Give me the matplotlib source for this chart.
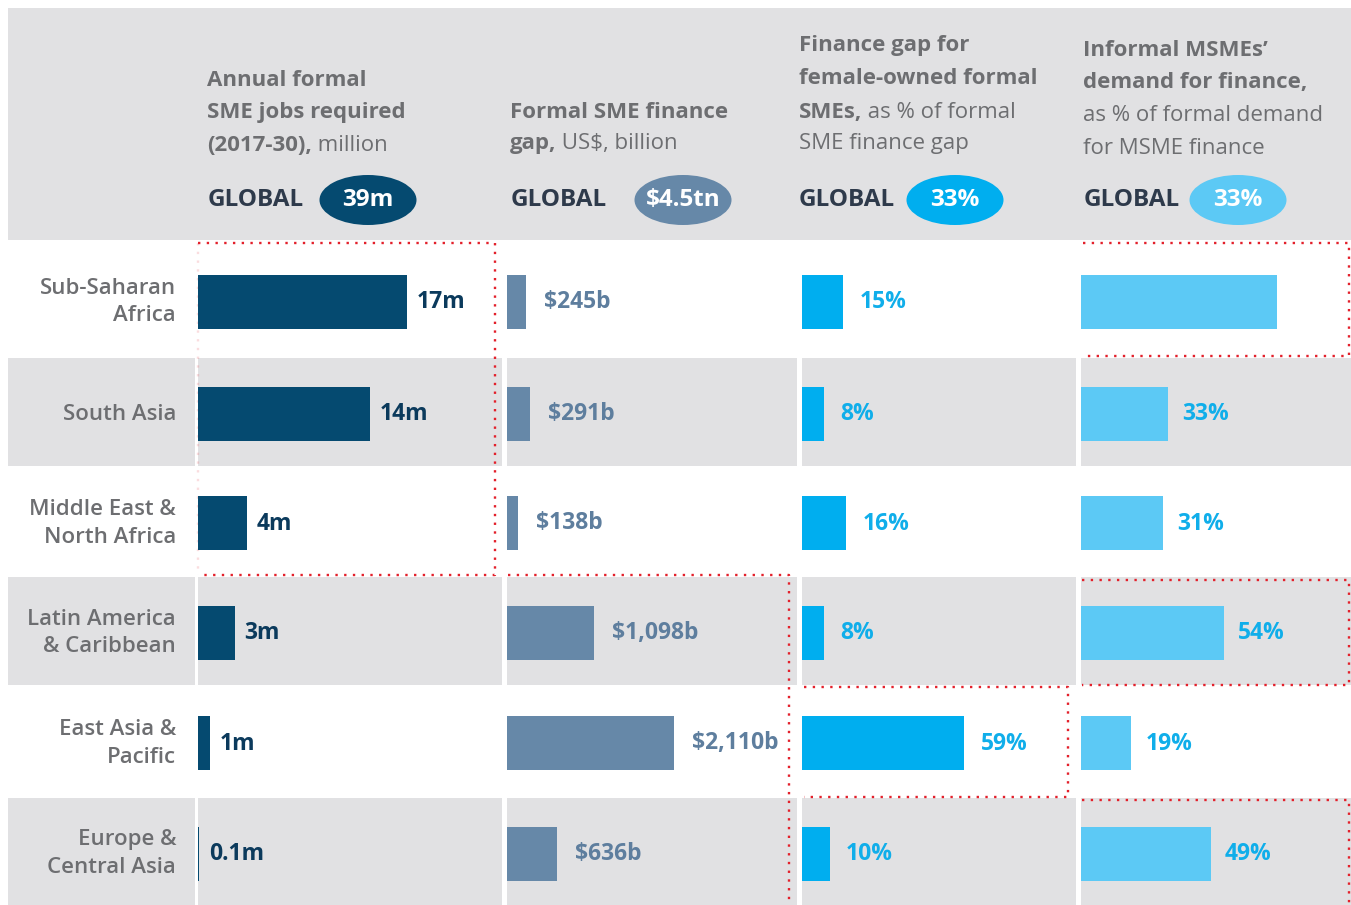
import matplotlib
matplotlib.use("Agg")
import matplotlib.pyplot as plt
from matplotlib.patches import Rectangle, Ellipse

# ---------------- data ----------------
regions = ["Sub-Saharan\nAfrica", "South Asia", "Middle East &\nNorth Africa",
           "Latin America\n& Caribbean", "East Asia &\nPacific", "Europe &\nCentral Asia"]
jobs = [17, 14, 4, 3, 1, 0.1]
jobs_labels = ["17m", "14m", "4m", "3m", "1m", "0.1m"]
gap = [245, 291, 138, 1098, 2110, 636]
gap_labels = ["$245b", "$291b", "$138b", "$1,098b", "$2,110b", "$636b"]
female = [15, 8, 16, 8, 59, 10]
female_labels = ["15%", "8%", "16%", "8%", "59%", "10%"]
informal = [74, 33, 31, 54, 19, 49]
informal_labels = ["", "33%", "31%", "54%", "19%", "49%"]
global_values = ["39m", "$4.5tn", "33%", "33%"]
headers = [
    [[("Annual formal", "bold")], [("SME jobs required", "bold")],
     [("(2017-30),", "bold"), (" million", "normal")]],
    [[("Formal SME finance", "bold")], [("gap,", "bold"), (" US$, billion", "normal")]],
    [[("Finance gap for", "bold")], [("female-owned formal", "bold")],
     [("SMEs,", "bold"), (" as % of formal", "normal")], [("SME finance gap", "normal")]],
    [[("Informal MSMEs\u2019", "bold")], [("demand for finance,", "bold")],
     [("as % of formal demand", "normal")], [("for MSME finance", "normal")]],
]

# ---------------- style / layout ----------------
W, H = 1351, 905
FONT = ["Open Sans", "DejaVu Sans"]
GRAY = "#E1E1E3"
TXT = "#6D6E71"
DARK = "#2E3A4B"
RED = "#E3202B"
bar_colors = ["#054A70", "#6688A8", "#00AEEF", "#5CC9F5"]
lab_colors = ["#0B3A5C", "#5E7E9E", "#10AEEA", "#10AEEA"]
pill_colors = ["#054A70", "#6688A8", "#00AEEF", "#5CC9F5"]

row_edges = [242, 358, 466, 577, 685, 798, 905]
row_centers = [(a + b) / 2 + 2 for a, b in zip(row_edges[:-1], row_edges[1:])]
label_cell = (8, 195)
col_cells = [(198, 502), (507, 797), (802, 1076), (1081, 1351)]
col_scale = [12.3, 0.079, 2.75, 2.65]   # px per unit
label_gap = [7, 13, 12, 10]             # points
header_x = [207, 510, 799, 1083]
header_y = [[78, 110, 143], [110, 141], [43, 76, 110, 141], [48, 80, 113, 146]]
global_x = [208, 511, 799, 1084]
pill_cx = [368, 683, 955, 1238]
BAR_H = 54

fig = plt.figure(figsize=(W / 100, H / 100), dpi=100)
bg = fig.add_axes([0, 0, 1, 1])
bg.set_xlim(0, W)
bg.set_ylim(H, 0)
bg.axis("off")

# header band
bg.add_patch(Rectangle((8, 8), W - 8, 232, color=GRAY, lw=0, zorder=0))
# gray rows
for i in (1, 3, 5):
    y0, y1 = row_edges[i], row_edges[i + 1]
    for (a, b) in [label_cell] + col_cells:
        bg.add_patch(Rectangle((a, y0), b - a, y1 - y0, color=GRAY, lw=0, zorder=0))

# region labels
for yc, r in zip(row_centers, regions):
    bg.text(176, yc, r, ha="right", va="center", fontsize=16, family=FONT,
            weight="semibold", color=TXT, linespacing=1.38)

# headers
fig.canvas.draw()
renderer = fig.canvas.get_renderer()
for c in range(4):
    for line, y in zip(headers[c], header_y[c]):
        x = header_x[c]
        for txt, wt in line:
            t = bg.text(x, y, txt, ha="left", va="center_baseline", fontsize=16,
                        family=FONT, weight=wt, color=TXT)
            bb = t.get_window_extent(renderer)
            x = bg.transData.inverted().transform((bb.x1, bb.y0))[0]
    bg.text(global_x[c], 200, "GLOBAL", ha="left", va="center", fontsize=17.5,
            family=FONT, weight="bold", color=DARK)
    bg.add_patch(Ellipse((pill_cx[c], 200), 97, 50, color=pill_colors[c], lw=0))
    bg.text(pill_cx[c], 200, global_values[c], ha="center", va="center", fontsize=17.5,
            family=FONT, weight="bold", color="white")

# red dotted highlight boxes
def dotted(xs, ys, alpha=1.0):
    bg.plot(xs, ys, color=RED, lw=1.7, ls=(0, (1, 2.7)), alpha=alpha, zorder=5)

dotted([198, 495, 495, 198], [243, 243, 575, 575])
dotted([198, 198], [243, 575], alpha=0.15)
dotted([508, 789, 789], [575, 575, 905])
dotted([804, 1068, 1068, 804], [687, 687, 797, 797])
dotted([1083, 1349, 1349, 1083], [243, 243, 356, 356])
dotted([1082, 1349, 1349, 1082], [580, 580, 685, 685])
dotted([1082, 1349, 1349], [800, 800, 905])

# bars
series = [(jobs, jobs_labels), (gap, gap_labels), (female, female_labels),
          (informal, informal_labels)]
for c, (vals, labs) in enumerate(series):
    x0, x1 = col_cells[c]
    ax = fig.add_axes([x0 / W, (H - row_edges[-1]) / H, (x1 - x0) / W,
                       (row_edges[-1] - row_edges[0]) / H])
    ax.set_xlim(0, (x1 - x0) / col_scale[c])
    ax.set_ylim(row_edges[-1], row_edges[0])
    ax.axis("off")
    ax.patch.set_visible(False)
    ax.barh(row_centers, vals, height=BAR_H, color=bar_colors[c], lw=0)
    for v, yc, lab in zip(vals, row_centers, labs):
        ax.annotate(lab, xy=(v, yc), xytext=(label_gap[c], 0), textcoords="offset points",
                    ha="left", va="center", fontsize=16.5, family=FONT, weight="bold",
                    color=lab_colors[c])

fig.savefig("out.png", dpi=100)
